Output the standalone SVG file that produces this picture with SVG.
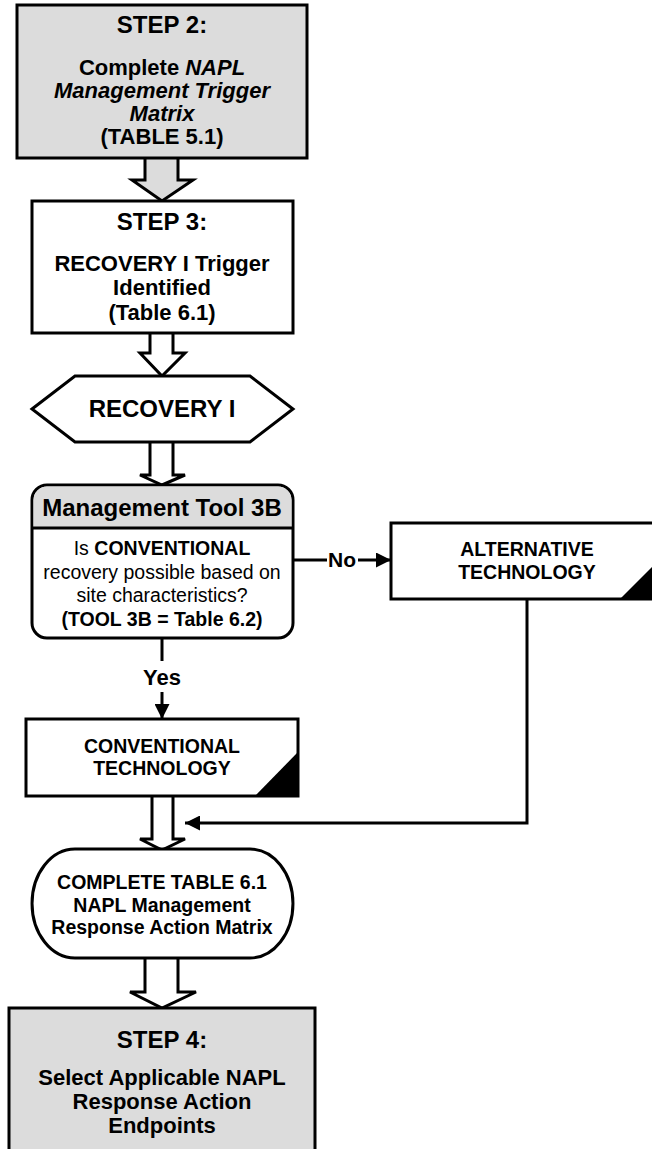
<svg xmlns="http://www.w3.org/2000/svg" width="652" height="1149" viewBox="0 0 652 1149">
  <defs>
    <style>
      .box { stroke: #000; stroke-width: 3; }
      .grey { fill: #dcdcdc; }
      .white { fill: #fff; }
      .line { fill: none; stroke: #000; stroke-width: 3; }
      .blk { stroke: #000; stroke-width: 3; stroke-linejoin: miter; }
      text { font-family: "Liberation Sans", Arial, sans-serif; text-anchor: middle; fill: #000; }
      .b { font-weight: bold; }
      .step { font-size: 24px; font-weight: bold; }
      .t22 { font-size: 22px; font-weight: bold; }
      .t19 { font-size: 19.5px; }
      .bi { font-style: italic; }
    </style>
    <marker id="ah" viewBox="0 0 10 10" refX="10" refY="5" markerWidth="6" markerHeight="5" markerUnits="strokeWidth" orient="auto">
      <path d="M0,0 L10,5 L0,10 Z" fill="#000"/>
    </marker>
  </defs>

  <!-- block arrows and connector lines -->
  <g id="connectors">
    <path class="blk grey" d="M145,158 V180 H132 L162,201 L193,180 H178 V158"/>
    <path class="blk white" d="M150,333 V353 H140 L162,376 L185,353 H173 V333"/>
    <path class="blk white" d="M150,442 V475 H140 L162,485 L185,475 H173 V442"/>
    <path class="blk white" d="M152,796 V839 H140 L162,850 L185,839 H173 V796"/>
    <path class="blk white" d="M145,958 V992 H130 L162,1008 L196,992 H178 V958"/>

    <!-- No branch -->
    <line class="line" x1="293" y1="560" x2="327" y2="560"/>
    <line class="line" x1="358" y1="560" x2="391" y2="560" marker-end="url(#ah)"/>
    <text class="b" x="342" y="567" font-size="21">No</text>

    <!-- Yes branch -->
    <line class="line" x1="162" y1="638" x2="162" y2="661"/>
    <line class="line" x1="162" y1="692" x2="162" y2="719" marker-end="url(#ah)"/>
    <text class="b" x="162" y="685" font-size="22">Yes</text>

    <!-- return from alternative technology -->
    <polyline class="line" points="527,599 527,823 185,823" marker-end="url(#ah)"/>
  </g>

  <g id="step2">
    <rect class="box grey" x="17" y="5" width="290" height="153"/>
    <text class="step" x="162" y="33">STEP 2:</text>
    <text class="t22" x="162" y="75">Complete <tspan class="bi">NAPL</tspan></text>
    <text class="t22 bi" x="162" y="98">Management Trigger</text>
    <text class="t22 bi" x="162" y="121">Matrix</text>
    <text class="t22" x="162" y="144">(TABLE 5.1)</text>
  </g>

  <g id="step3">
    <rect class="box white" x="32" y="201" width="261" height="132"/>
    <text class="step" x="162" y="230">STEP 3:</text>
    <text class="t22" x="162" y="271">RECOVERY I Trigger</text>
    <text class="t22" x="162" y="295">Identified</text>
    <text class="t22" x="162" y="320">(Table 6.1)</text>
  </g>

  <g id="recovery">
    <polygon class="box white" points="32,409 75,376 250,376 293,409 250,442 75,442"/>
    <text class="step" x="162" y="417">RECOVERY I</text>
  </g>

  <g id="tool3b">
    <rect class="box white" x="32" y="485" width="261" height="153" rx="15" ry="15"/>
    <path class="grey" d="M33.5,528 V500 A13.5,13.5 0 0 1 47,486.5 H278 A13.5,13.5 0 0 1 291.5,500 V528 Z"/>
    <line class="line" x1="32" y1="528" x2="293" y2="528"/>
    <text class="step" x="162" y="516">Management Tool 3B</text>
    <text class="t19" x="162" y="555">Is <tspan class="b">CONVENTIONAL</tspan></text>
    <text class="t19" x="162" y="579">recovery possible based on</text>
    <text class="t19" x="162" y="602">site characteristics?</text>
    <text class="t19 b" x="162" y="626">(TOOL 3B = Table 6.2)</text>
  </g>

  <g id="alternative">
    <rect class="box white" x="391" y="523" width="280" height="76"/>
    <polygon points="620,599 672,599 672,547" fill="#000"/>
    <text class="t19 b" x="527" y="556">ALTERNATIVE</text>
    <text class="t19 b" x="527" y="579">TECHNOLOGY</text>
  </g>

  <g id="conventional">
    <rect class="box white" x="26" y="719" width="272" height="77"/>
    <polygon points="255,796 298,796 298,752" fill="#000"/>
    <text class="t19 b" x="162" y="753">CONVENTIONAL</text>
    <text class="t19 b" x="162" y="775">TECHNOLOGY</text>
  </g>

  <g id="complete-table">
    <path class="box white" d="M75,849 H250 A43,54.5 0 0 1 250,958 H75 A43,54.5 0 0 1 75,849 Z"/>
    <text class="t19 b" x="162" y="889">COMPLETE TABLE 6.1</text>
    <text class="t19 b" x="162" y="912">NAPL Management</text>
    <text class="t19 b" x="162" y="934">Response Action Matrix</text>
  </g>

  <g id="step4">
    <rect class="box grey" x="9" y="1008" width="306" height="160"/>
    <text class="step" x="162" y="1048">STEP 4:</text>
    <text class="t22" x="162" y="1085">Select Applicable NAPL</text>
    <text class="t22" x="162" y="1109">Response Action</text>
    <text class="t22" x="162" y="1133">Endpoints</text>
  </g>
</svg>
